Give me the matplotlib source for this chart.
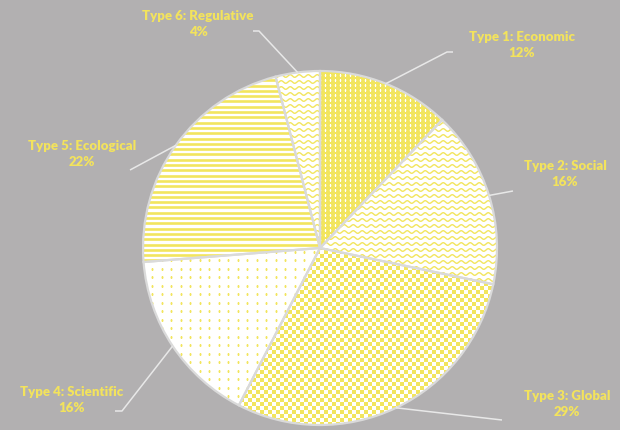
import numpy as np
import matplotlib
matplotlib.use("Agg")
import matplotlib.pyplot as plt
from matplotlib.colors import ListedColormap

# Daten
labels = ["Type 1: Economic", "Type 2: Social", "Type 3: Global",
          "Type 4: Scientific", "Type 5: Ecological", "Type 6: Regulative"]
shares = [12, 16, 29, 16, 22, 4]

BG = "#B2B0B1"
YELLOW = "#F2E55E"
TEXT = "#F3E35C"
EDGE = "#DADADA"
LEADER = "#E8E8E8"

W, H = 620, 430
CX, CY, R = 320, H - 248, 177

# Label-Positionen (Pixel, von oben) und Knickpunkte der Führungslinien
label_pos = [(522, 45), (565, 174), (567, 404), (72, 400), (82, 154), (198, 24)]
elbows = [[(447, 52), (453, 52)],
          [(513, 191)],
          [(502, 420)],
          [(122, 411), (115, 411)],
          [(130, 170)],
          [(259, 31), (253, 31)]]

plt.rcParams["font.family"] = ["Lato", "DejaVu Sans"]

fig = plt.figure(figsize=(W / 100, H / 100), dpi=100)
fig.patch.set_facecolor(BG)
ax = fig.add_axes([0, 0, 1, 1])

wedges, _ = ax.pie(shares, startangle=90, counterclock=False, center=(CX, CY),
                   radius=R, frame=True,
                   wedgeprops=dict(edgecolor="none", linewidth=0, zorder=1))

faces = [YELLOW, "white", "white", "white", "white", "white"]
for w, fc in zip(wedges, faces):
    w.set_facecolor(fc)

# Texturen (an die Tortenstücke geclippt)
# 1: gelb mit weißen Punkten
gx, gy = np.meshgrid(np.arange(0, W, 5), np.arange(0, H, 5))
pts, = ax.plot(gx.ravel(), gy.ravel(), "s", ms=1.1, color="white",
               mec="none", zorder=2)
pts.set_clip_path(wedges[0])

# 2 + 6: Wellenlinien
xs = np.arange(0, W, 0.5)
for i in (1, 5):
    for y0 in np.arange(0, H, 6):
        ln, = ax.plot(xs, y0 + 1.3 * np.sin(2 * np.pi * xs / 9), color=YELLOW,
                      lw=1.0, zorder=2)
        ln.set_clip_path(wedges[i])

# 3: Schachbrett
cell = 4
nx, ny = W // cell + 1, H // cell + 1
checker = (np.add.outer(np.arange(ny), np.arange(nx)) % 2)
im = ax.imshow(checker, cmap=ListedColormap(["white", YELLOW]),
               extent=(0, nx * cell, 0, ny * cell), origin="lower",
               interpolation="nearest", zorder=2)
im.set_clip_path(wedges[2])

# 4: weiß mit gelben Punkten
gx, gy = np.meshgrid(np.arange(0, W, 9.5), np.arange(0, H, 8.5))
pts, = ax.plot(gx.ravel(), gy.ravel(), "s", ms=1.4, color=YELLOW,
               mec="none", zorder=2)
pts.set_clip_path(wedges[3])

# 5: horizontale Streifen
hl = ax.hlines(np.arange(0, H, 5.3), 0, W, color=YELLOW, lw=1.9, zorder=2)
hl.set_clip_path(wedges[4])

# Umrisse
ax.pie(shares, startangle=90, counterclock=False, center=(CX, CY), radius=R,
       frame=True,
       wedgeprops=dict(facecolor="none", edgecolor=EDGE, linewidth=1.6, zorder=3))

# Beschriftungen und Führungslinien
total = sum(shares)
start = 90.0
for lab, val, (tx, ty), knick in zip(labels, shares, label_pos, elbows):
    span = 360.0 * val / total
    mid = np.deg2rad(start - span / 2)
    start -= span
    px, py = CX + R * np.cos(mid), CY + R * np.sin(mid)
    xs_l = [px] + [k[0] for k in knick]
    ys_l = [py] + [H - k[1] for k in knick]
    ax.plot(xs_l, ys_l, color=LEADER, lw=1.1, zorder=4, solid_capstyle="butt")
    ax.text(tx, H - ty, f"{lab}\n{val}%", ha="center", va="center",
            fontsize=9.5, fontweight="heavy", color=TEXT, linespacing=1.4,
            zorder=5)

ax.set_xlim(0, W)
ax.set_ylim(0, H)
ax.set_aspect("equal")
ax.axis("off")

fig.savefig("out.png", dpi=100, facecolor=BG)
